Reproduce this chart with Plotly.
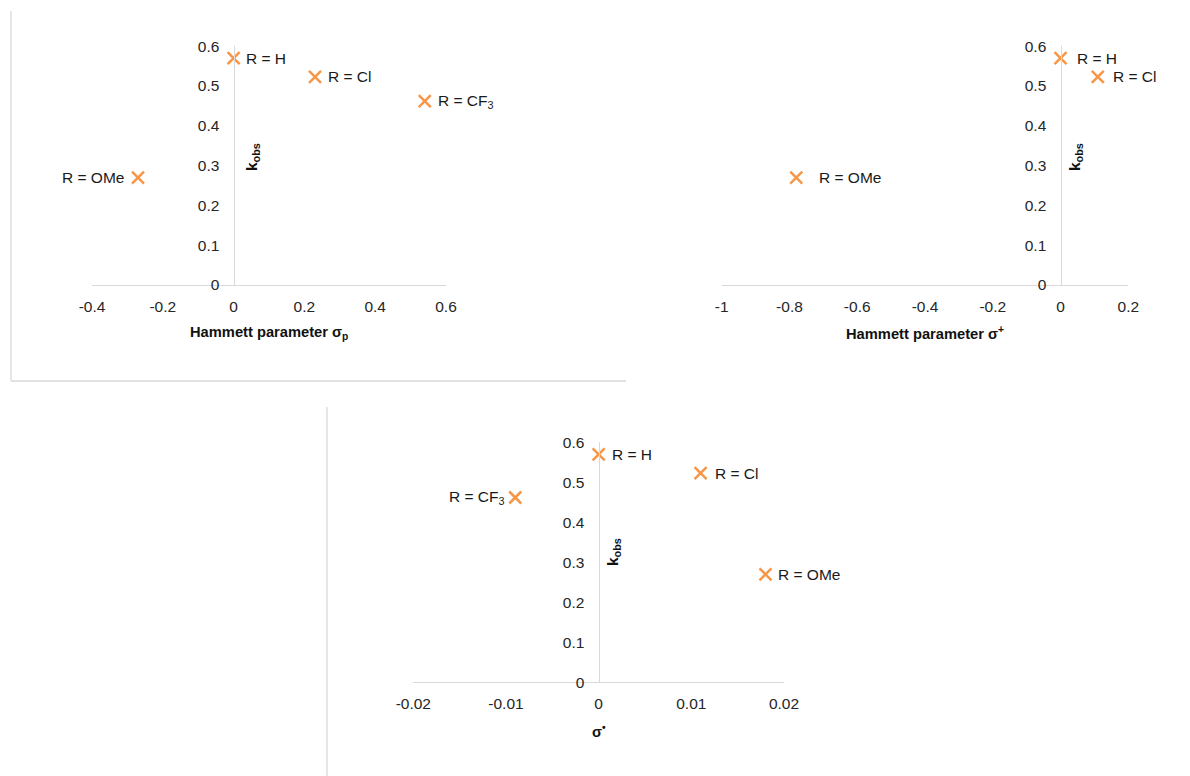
import plotly.graph_objects as go

W, H = 1190, 776

# --- data -------------------------------------------------------------
k_obs_subs = ["H", "Cl", "CF<sub>3</sub>", "OMe"]
k_obs = [0.57, 0.523, 0.462, 0.27]

sigma_p = [0.0, 0.23, 0.54, -0.27]

sigma_plus_subs = ["H", "Cl", "OMe"]
sigma_plus = [0.0, 0.11, -0.78]
k_obs_plus = [0.57, 0.523, 0.27]

sigma_rad = [0.0, 0.011, -0.009, 0.018]

y_tickvals = [0, 0.1, 0.2, 0.3, 0.4, 0.5, 0.6]
y_ticktext = ["0", "0.1", "0.2", "0.3", "0.4", "0.5", "0.6"]

xp_tickvals = [-0.4, -0.2, 0, 0.2, 0.4, 0.6]
xp_ticktext = ["-0.4", "-0.2", "0", "0.2", "0.4", "0.6"]

xplus_tickvals = [-1, -0.8, -0.6, -0.4, -0.2, 0, 0.2]
xplus_ticktext = ["-1", "-0.8", "-0.6", "-0.4", "-0.2", "0", "0.2"]

xrad_tickvals = [-0.02, -0.01, 0, 0.01, 0.02]
xrad_ticktext = ["-0.02", "-0.01", "0", "0.01", "0.02"]

# --- styling ----------------------------------------------------------
FONT = "Liberation Sans, Arial, sans-serif"
ORANGE = "#F79646"
AXIS = "#D9D9D9"
TXT = "#262626"
TICK_SIZE = 15.5


def fx(px):
    return px / W


def fy(py):
    return 1 - py / H


panels = [
    dict(x=sigma_p, y=k_obs, subs=k_obs_subs, xr=[-0.4, 0.6],
         tv=xp_tickvals, tt=xp_ticktext,
         xdom=(92, 446), ydom=(285, 46.2),
         shifts=[10, 11, 11, -12],
         xtitle="Hammett parameter σ<sub>p</sub>", xt_pos=(269, 333),
         ytitle_pos=(253, 157)),
    dict(x=sigma_plus, y=k_obs_plus, subs=sigma_plus_subs, xr=[-1, 0.2],
         tv=xplus_tickvals, tt=xplus_ticktext,
         xdom=(721.7, 1128.3), ydom=(285, 46.2),
         shifts=[14, 13, 21],
         xtitle="Hammett parameter σ<sup>+</sup>", xt_pos=(925, 333),
         ytitle_pos=(1076, 157)),
    dict(x=sigma_rad, y=k_obs, subs=k_obs_subs, xr=[-0.02, 0.02],
         tv=xrad_tickvals, tt=xrad_ticktext,
         xdom=(413.3, 784), ydom=(682.3, 442.3),
         shifts=[11, 12, -8, 11],
         xtitle="σ<sup>•</sup>", xt_pos=(599, 731),
         ytitle_pos=(613, 552)),
]

fig = go.Figure()
annotations = []

for i, p in enumerate(panels, start=1):
    xa = "x" if i == 1 else f"x{i}"
    ya = "y" if i == 1 else f"y{i}"
    xkey = "xaxis" if i == 1 else f"xaxis{i}"
    ykey = "yaxis" if i == 1 else f"yaxis{i}"

    fig.add_trace(go.Scatter(
        x=p["x"], y=p["y"], mode="markers", xaxis=xa, yaxis=ya,
        marker=dict(symbol="x-thin", size=12, color=ORANGE,
                    line=dict(color=ORANGE, width=2.5)),
        cliponaxis=False, showlegend=False, hoverinfo="skip",
    ))

    x0, x1 = fx(p["xdom"][0]), fx(p["xdom"][1])
    y0, y1 = fy(p["ydom"][0]), fy(p["ydom"][1])
    xmin, xmax = p["xr"]
    ypos = x0 + (0 - xmin) / (xmax - xmin) * (x1 - x0)

    fig.layout[xkey] = dict(
        domain=[x0, x1], range=p["xr"], anchor=ya, automargin=False,
        tickvals=p["tv"], ticktext=p["tt"],
        showline=True, linecolor=AXIS, linewidth=1.3,
        showgrid=False, zeroline=False, ticks="",
        ticklabelstandoff=7,
        tickfont=dict(family=FONT, size=TICK_SIZE, color=TXT),
    )
    fig.layout[ykey] = dict(
        domain=[y0, y1], range=[0, 0.6], anchor="free", position=ypos,
        automargin=False,
        tickvals=y_tickvals, ticktext=y_ticktext,
        showline=True, linecolor=AXIS, linewidth=1.3,
        showgrid=False, zeroline=False, ticks="",
        ticklabelstandoff=11,
        tickfont=dict(family=FONT, size=TICK_SIZE, color=TXT),
    )

    # point labels
    for xv, yv, sub, sh in zip(p["x"], p["y"], p["subs"], p["shifts"]):
        annotations.append(dict(
            x=xv, y=yv, xref=xa, yref=ya, text=f"R = {sub}",
            showarrow=False, xanchor="left" if sh > 0 else "right",
            yanchor="middle", xshift=sh,
            font=dict(family=FONT, size=TICK_SIZE, color="#1a1a1a"),
        ))

    # axis titles
    annotations.append(dict(
        x=fx(p["xt_pos"][0]), y=fy(p["xt_pos"][1]), xref="paper", yref="paper",
        text=f"<b>{p['xtitle']}</b>", showarrow=False,
        xanchor="center", yanchor="middle",
        font=dict(family=FONT, size=14.7, color="#111"),
    ))
    annotations.append(dict(
        x=fx(p["ytitle_pos"][0]), y=fy(p["ytitle_pos"][1]), xref="paper", yref="paper",
        text="<b>k<sub>obs</sub></b>", showarrow=False, textangle=-90,
        xanchor="center", yanchor="middle",
        font=dict(family=FONT, size=15.5, color="#111"),
    ))

# chart-area frame edges
frame = dict(type="line", xref="paper", yref="paper",
             line=dict(color="#D9D9D9", width=1.3))
shapes = [
    dict(frame, x0=fx(11), x1=fx(11), y0=fy(11), y1=fy(381)),
    dict(frame, x0=fx(11), x1=fx(626), y0=fy(381), y1=fy(381)),
    dict(frame, x0=fx(327), x1=fx(327), y0=fy(407), y1=fy(776)),
]

fig.update_layout(
    width=W, height=H,
    margin=dict(l=0, r=0, t=0, b=0, autoexpand=False),
    paper_bgcolor="white", plot_bgcolor="white",
    annotations=annotations, shapes=shapes,
    showlegend=False,
)

fig.write_html("out.html", config={"displayModeBar": False})
